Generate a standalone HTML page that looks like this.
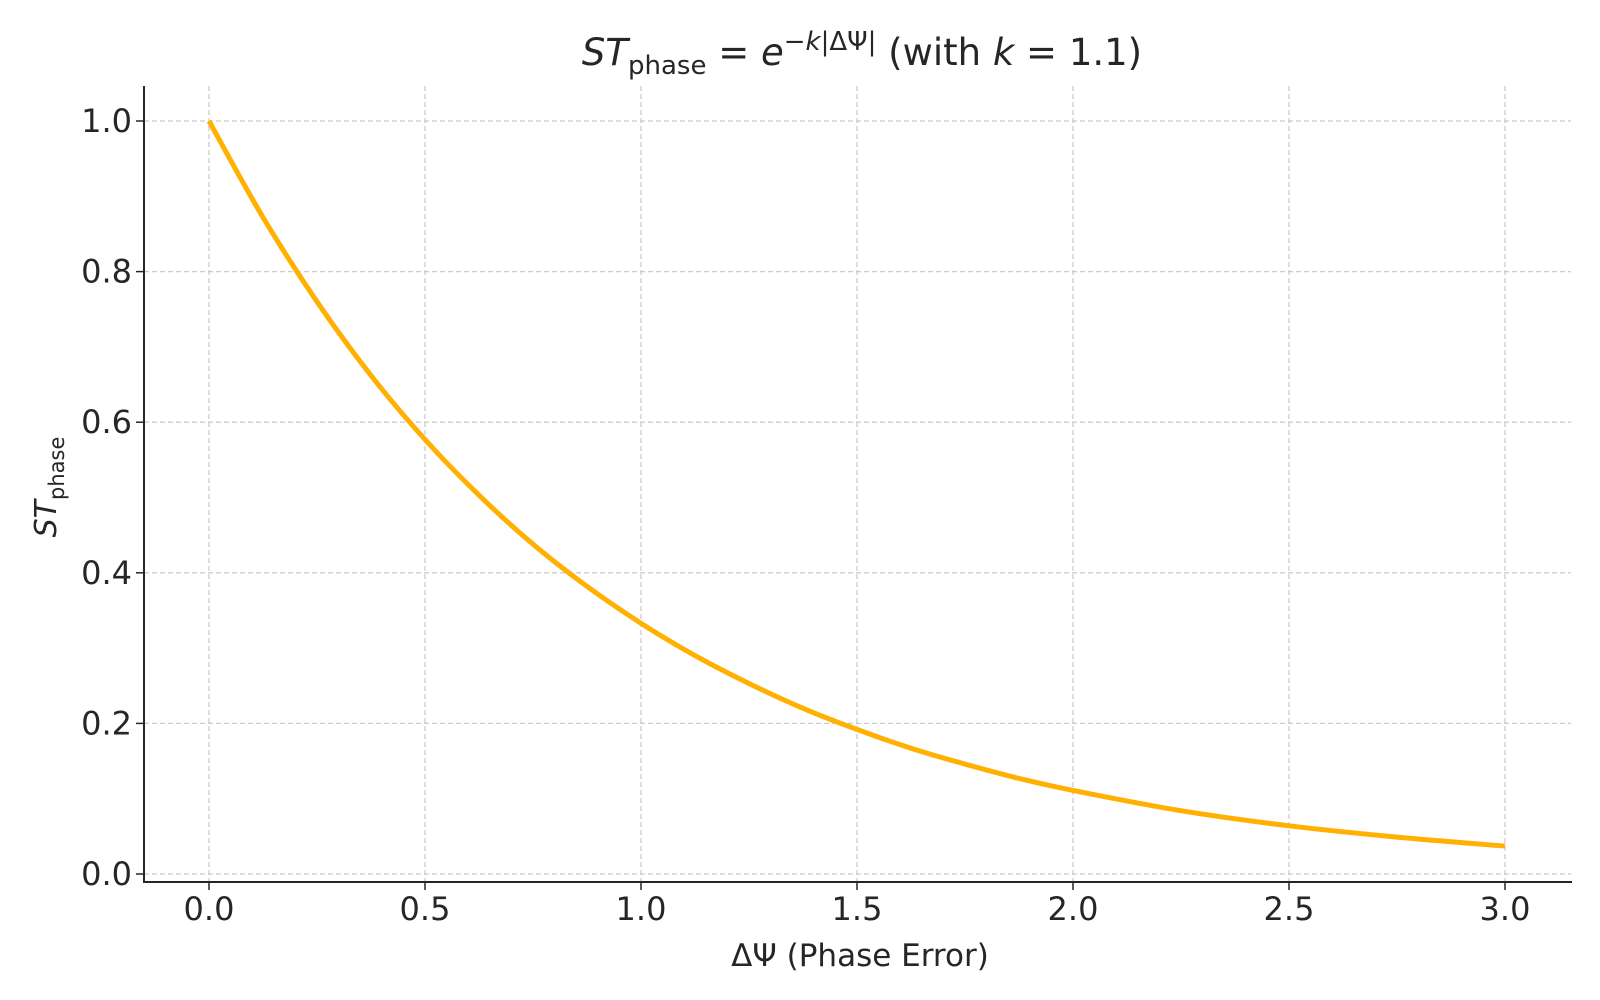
<!DOCTYPE html>
<html><head><meta charset="utf-8"><style>
body{margin:0;background:#fff;}
svg{display:block;font-family:"DejaVu Sans","Liberation Sans",sans-serif;}
</style></head><body>
<svg id="chart" width="1600" height="1000" viewBox="0 0 1600 1000">
<g id="grid"></g>
<g id="axes"></g>
<text x="862" y="65" text-anchor="middle" font-size="37" fill="#262626"><tspan font-style="italic">ST</tspan><tspan font-size="26" dy="9">phase</tspan><tspan dy="-9"> = </tspan><tspan font-style="italic">e</tspan><tspan font-size="26" dy="-15">−<tspan font-style="italic">k</tspan>|ΔΨ|</tspan><tspan dy="15"> (with </tspan><tspan font-style="italic">k</tspan><tspan> = 1.1)</tspan></text>
<text x="860" y="966" text-anchor="middle" font-size="31" fill="#262626">ΔΨ (Phase Error)</text>
<text transform="translate(56,487) rotate(-90)" text-anchor="middle" font-size="30" fill="#262626"><tspan font-style="italic">ST</tspan><tspan font-size="21" dy="8">phase</tspan></text>
</svg>
<script>
const xTicks=[0,0.5,1.0,1.5,2.0,2.5,3.0];
const xTickLabels=["0.0","0.5","1.0","1.5","2.0","2.5","3.0"];
const yTicks=[0,0.2,0.4,0.6,0.8,1.0];
const yTickLabels=["0.0","0.2","0.4","0.6","0.8","1.0"];
const xValues=[0,0.125,0.25,0.375,0.5,0.625,0.75,0.875,1.0,1.125,1.25,1.375,1.5,1.625,1.75,1.875,2.0,2.25,2.5,2.75,3.0];
const yValues=[1.0,0.872,0.760,0.662,0.577,0.503,0.438,0.382,0.333,0.290,0.253,0.220,0.192,0.167,0.146,0.127,0.111,0.084,0.064,0.049,0.037];
const NS="http://www.w3.org/2000/svg";
const X=v=>209+v*(1505-209)/3;
const Y=v=>874-v*(874-121);
const svg=document.getElementById('chart'),grid=document.getElementById('grid'),axes=document.getElementById('axes');
function mk(t,a,p){const e=document.createElementNS(NS,t);for(const k in a)e.setAttribute(k,a[k]);p.appendChild(e);return e;}
xTicks.forEach((v,i)=>{
 const g=mk('line',{x1:X(v),x2:X(v),y1:86,y2:882,stroke:'#cbcbcb','stroke-width':1.3,'stroke-dasharray':'5,3'},grid);
 
 
 const t=mk('line',{x1:X(v),x2:X(v),y1:882,y2:890,stroke:'#262626','stroke-width':1.5},axes);
 
 
 const l=mk('text',{x:X(v),y:920,'text-anchor':'middle','font-size':32,fill:'#262626'},axes);
 l.textContent=xTickLabels[i];
 
 
});
yTicks.forEach((v,i)=>{
 const g=mk('line',{x1:144,x2:1571,y1:Y(v),y2:Y(v),stroke:'#cbcbcb','stroke-width':1.3,'stroke-dasharray':'5,3'},grid);
 
 
 const t=mk('line',{x1:136,x2:144,y1:Y(v),y2:Y(v),stroke:'#262626','stroke-width':1.5},axes);
 
 
 const l=mk('text',{x:132,y:Y(v)+11,'text-anchor':'end','font-size':32,fill:'#262626'},axes);
 l.textContent=yTickLabels[i];
 
 
});
const sp1=mk('line',{x1:144,x2:144,y1:86,y2:883,stroke:'#262626','stroke-width':2},axes);


const sp2=mk('line',{x1:143,x2:1572,y1:882,y2:882,stroke:'#262626','stroke-width':2},axes);


const P=xValues.map((x,i)=>[X(x),Y(yValues[i])]);
let d='M'+P[0][0].toFixed(1)+','+P[0][1].toFixed(1);
for(let i=0;i<P.length-1;i++){
 const p0=P[Math.max(0,i-1)],p1=P[i],p2=P[i+1],p3=P[Math.min(P.length-1,i+2)];
 const c1=[p1[0]+(p2[0]-p0[0])/6,p1[1]+(p2[1]-p0[1])/6];
 const c2=[p2[0]-(p3[0]-p1[0])/6,p2[1]-(p3[1]-p1[1])/6];
 d+='C'+c1.map(n=>n.toFixed(1))+' '+c2.map(n=>n.toFixed(1))+' '+p2.map(n=>n.toFixed(1));
}
const line=mk('path',{d:d,fill:'none',stroke:'#FFB000','stroke-width':5,'stroke-linejoin':'round'},svg);


</script>
</body></html>
